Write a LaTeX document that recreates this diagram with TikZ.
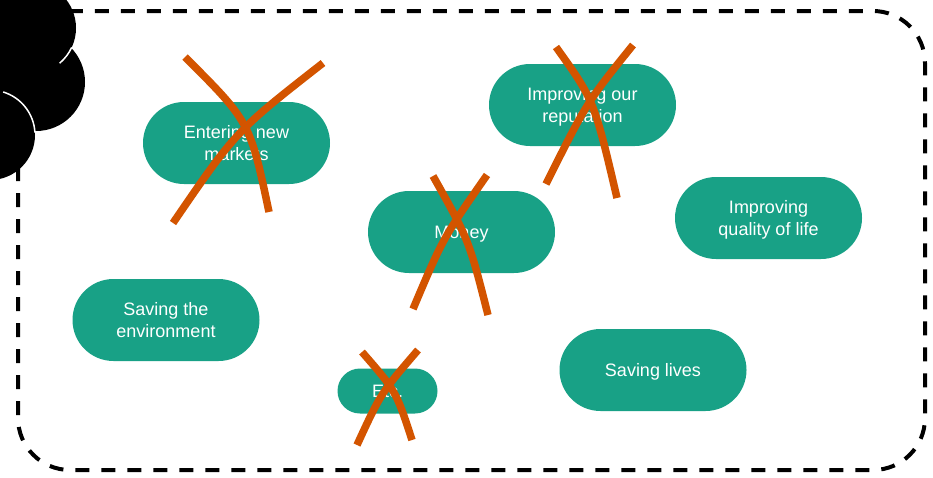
\documentclass[tikz,border=0pt]{standalone}
\usepackage{fontspec}
\setmainfont{Liberation Sans}
\usetikzlibrary{positioning}
\definecolor{pillgreen}{RGB}{24,161,134}
\definecolor{crossorange}{RGB}{211,84,0}
\tikzstyle{goal} = [
    rectangle,
    rounded corners=41pt,
    minimum width=187pt,
    minimum height=82pt,
    fill=pillgreen,
    text=white,
    align=center,
    text depth=-6pt,
    font=\fontsize{18}{22}\selectfont
]
\tikzstyle{smallgoal} = [
    goal,
    rounded corners=22.5pt,
    minimum width=100pt,
    minimum height=45pt
]
\tikzstyle{strike} = [draw=crossorange, line width=7.5pt]
\tikzstyle{frame} = [draw=black, line width=4pt, dash pattern=on 14pt off 12pt, rounded corners=52pt]

\begin{document}
\begin{tikzpicture}[x=1pt, y=-1pt]

\useasboundingbox (0,0) rectangle (933,477);

\draw [frame] (18,11) rectangle (925,470);

% cloud in the corner
\fill [black] (30,28) circle (46);
\fill [black] (36,82) circle (49);
\fill [black] (-10,135) circle (45);
\draw [white, line width=1.5pt] (30,28) ++(25:46) arc (25:50:46);
\draw [white, line width=1.5pt] (-10,135) ++(-73:45) arc (-73:-3:45);

\node (markets) [goal] at (236.5,143) {Entering new\\markets};
\node (reputation) [goal] at (582.5,105) {Improving our\\reputation};
\node (money) [goal] at (461.5,232) {Money};
\node (quality) [goal] at (768.5,218) {Improving\\quality of life};
\node (environment) [goal] at (166,320) {Saving the\\environment};
\node (lives) [goal] at (653,370) {Saving lives};
\node (etc) [smallgoal] at (387.5,391) {Etc.};

% crossed out
\draw [strike] (185,57) .. controls (250,122) .. (269,212);
\draw [strike] (323,63) .. controls (236,131) .. (173,223);

\draw [strike] (556,47) .. controls (594,100) .. (617,198);
\draw [strike] (633,45) .. controls (587,102) .. (546,184);

\draw [strike] (433,176) .. controls (469,240) .. (488,315);
\draw [strike] (487,175) .. controls (443,238) .. (413,309);

\draw [strike] (362,352) .. controls (396,391) .. (412,440);
\draw [strike] (418,350) .. controls (381,393) .. (357,445);

\end{tikzpicture}
\end{document}
